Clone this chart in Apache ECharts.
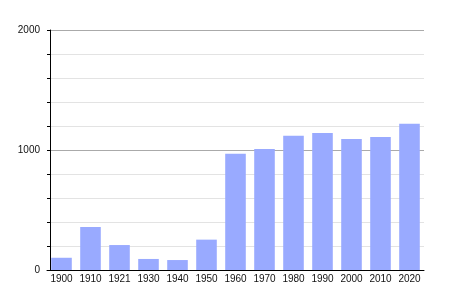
<!DOCTYPE html>
<html><head><meta charset="utf-8">
<script src="https://cdn.jsdelivr.net/npm/echarts@6/dist/echarts.min.js"></script>
<style>html,body{margin:0;padding:0;background:#fff}#c{width:450px;height:300px}</style>
</head><body><div id="c"></div>
<script>
const years = ['1900','1910','1921','1930','1940','1950','1960','1970','1980','1990','2000','2010','2020'];
const population = [102,358,208,92,83,253,969,1008,1119,1142,1092,1108,1219];
const yTicks = [0,1000,2000];

const chart = echarts.init(document.getElementById('c'), null, {renderer:'canvas'});
chart.setOption({
  animation:false,
  grid:{left:47,right:26,top:30,bottom:30},
  xAxis:{type:'category',data:years,
    axisLine:{lineStyle:{color:'#000',width:1}},
    axisTick:{show:false},
    axisLabel:{interval:0,color:'#111',fontSize:10,fontFamily:'Liberation Sans, Arial, sans-serif',margin:4}},
  yAxis:{type:'value',min:0,max:2000,interval:200,offset:-3,
    axisLine:{show:true,lineStyle:{color:'#000',width:1}},
    axisTick:{show:true,length:3,lineStyle:{color:'#000'}},
    axisLabel:{color:'#111',fontSize:10,fontFamily:'Liberation Sans, Arial, sans-serif',margin:10,
      formatter:v=>yTicks.includes(v)?String(v):''},
    splitLine:{show:true,lineStyle:{color:['#aaa','#e3e3e3','#e3e3e3','#e3e3e3','#e3e3e3'],width:1}}},
  series:[{type:'bar',data:population,barCategoryGap:'29%',itemStyle:{color:'#99aaff'}}]
});
</script></body></html>
